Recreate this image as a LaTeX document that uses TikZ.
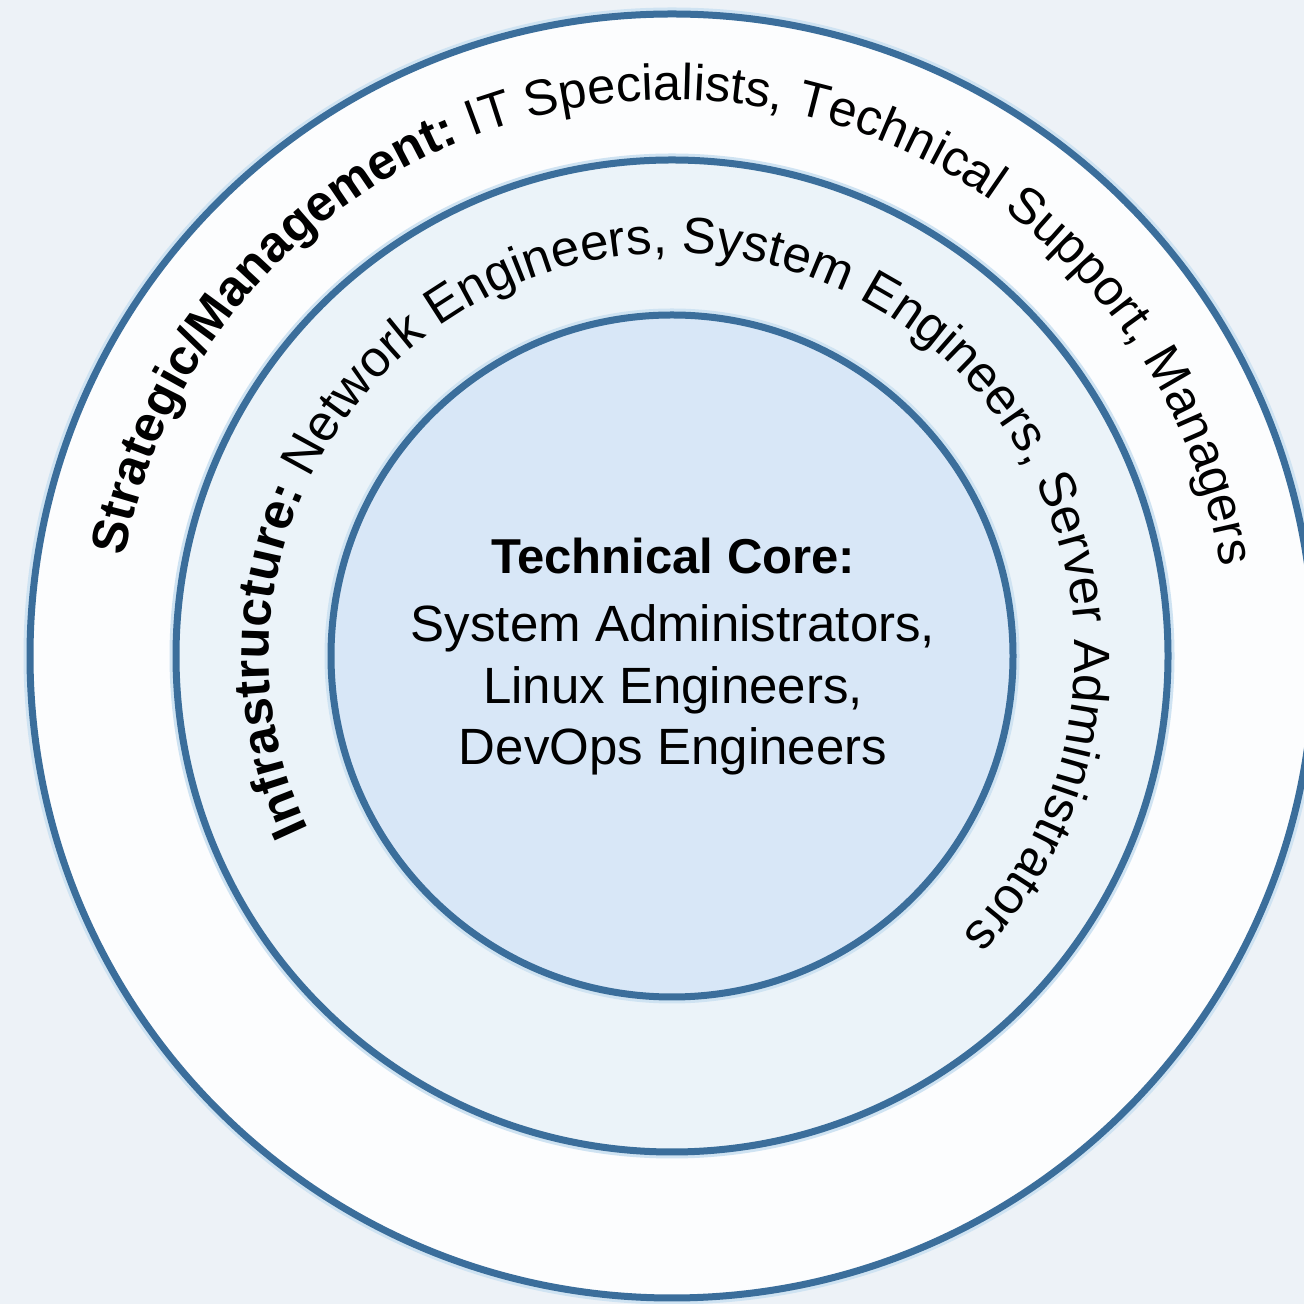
\documentclass[tikz,border=0pt]{standalone}
\usepackage{fontspec}
\setmainfont{Liberation Sans}
\usetikzlibrary{decorations.text}
\definecolor{bgc}{HTML}{EDF2F7}
\definecolor{ringAc}{HTML}{FCFDFE}
\definecolor{ringBc}{HTML}{EBF3F9}
\definecolor{corec}{HTML}{D8E7F7}
\definecolor{linec}{HTML}{3B6E9B}
\definecolor{glowc}{HTML}{CFE3F2}
\newcommand\lblB{\fontsize{50.5}{60}\selectfont\bfseries}
\newcommand\lblR{\fontsize{50.5}{60}\selectfont\mdseries}
\newcommand\lblBm{\fontsize{51}{60}\selectfont\bfseries}
\newcommand\lblRm{\fontsize{51}{60}\selectfont\mdseries}
\begin{document}
\begin{tikzpicture}[x=1pt,y=1pt,
  ring/.style={circle, inner sep=0pt, outer sep=0pt, draw=linec, line width=7pt},
  glow/.style={circle, inner sep=0pt, draw=glowc, line width=13pt},
  coretext/.style={anchor=base, inner sep=0pt, font=\fontsize{51}{60}\selectfont, text=black},
  arctext/.style={decorate, decoration={text along path, text color=black, text align=left}}]
\path[use as bounding box, fill=bgc] (0,0) rectangle (1304,1304);
\coordinate (c) at (672,648);
\begin{scope}
\clip (0,0) rectangle (1304,1304);
\node[glow, minimum size=1284pt] (outerglow) at (c) {};
\node[ring, minimum size=1284pt, fill=ringAc] (outer) at (c) {};
\node[glow, minimum size=992pt] (middleglow) at (c) {};
\node[ring, minimum size=992pt, fill=ringBc] (middle) at (c) {};
\node[glow, minimum size=682pt] (innerglow) at (c) {};
\node[ring, minimum size=682pt, fill=corec] (inner) at (c) {};
\end{scope}
% outer ring label
\path[arctext, decoration={text={|\lblB|Strategic/Management:|\lblR| IT Specialists, Technical Support, Managers}}]
  (c) ++(169.7:556) arc[start angle=169.7, end angle=-25, radius=556];
% middle ring label
\path[arctext, decoration={text={|\lblBm|Infrastructure:|\lblRm| Network Engineers, System Engineers, Server Administrators}}]
  (c) ++(205.5:403) arc[start angle=205.5, end angle=-65, radius=403];
% core text
\node[coretext, font=\fontsize{49}{60}\selectfont\bfseries] (t1) at (673,730) {Technical Core:};
\node[coretext] (t2) at (673,662) {System Administrators,};
\node[coretext] (t3) at (673,600) {Linux Engineers,};
\node[coretext] (t4) at (673,539) {DevOps Engineers};
\end{tikzpicture}
\end{document}
